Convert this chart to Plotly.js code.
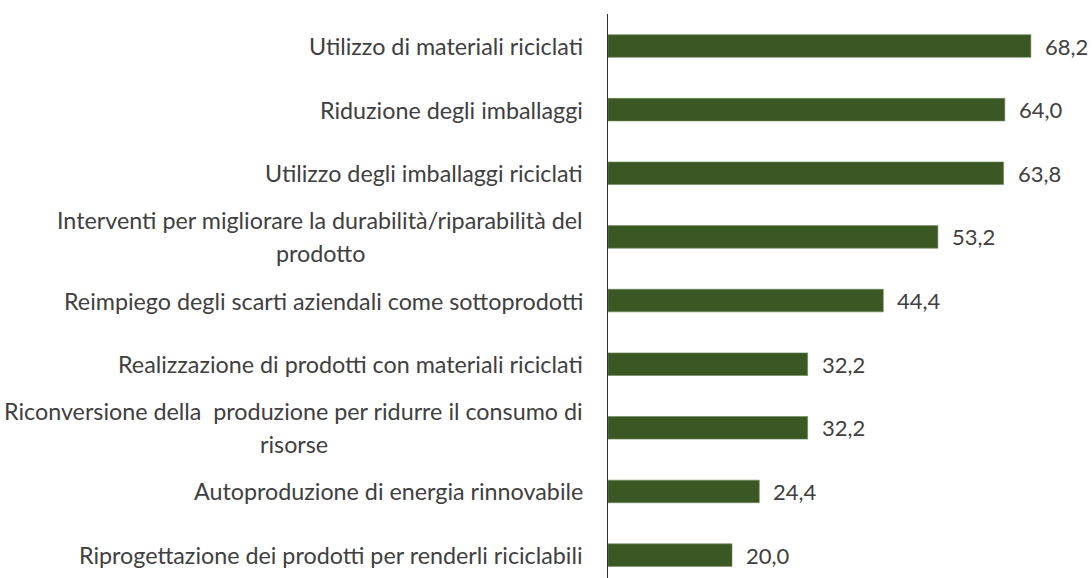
<!DOCTYPE html>
<html>
<head>
<meta charset="utf-8">
<script src="https://cdn.plot.ly/plotly-3.0.1.min.js"></script>
<style>html,body{margin:0;padding:0;background:#fff;}#chart{width:1092px;height:578px;}</style>
</head>
<body>
<div id="chart"></div>
<script>
const categories = [
  "Utilizzo di materiali riciclati",
  "Riduzione degli imballaggi",
  "Utilizzo degli imballaggi riciclati",
  "Interventi per migliorare la durabilità/riparabilità del\nprodotto",
  "Reimpiego degli scarti aziendali come sottoprodotti",
  "Realizzazione di prodotti con materiali riciclati",
  "Riconversione della  produzione per ridurre il consumo di\nrisorse",
  "Autoproduzione di energia rinnovabile",
  "Riprogettazione dei prodotti per renderli riciclabili"
];
const values = [68.2, 64.0, 63.8, 53.2, 44.4, 32.2, 32.2, 24.4, 20.0];
const valueLabels = values.map(v => v.toFixed(1).replace('.', ','));

const FONT = 'Lato';
const FSIZE = 23.3;
const VSIZE = 22;
const TXT = '#404040';
const canvas = document.createElement('canvas');
const ctx = canvas.getContext('2d');
ctx.font = FSIZE + 'px ' + FONT;

const annotations = [];
categories.forEach((c, i) => {
  const lines = c.split('\n');
  if (lines.length === 1) {
    annotations.push({x: 0, xref: 'paper', y: c, yref: 'y', text: lines[0],
      xanchor: 'right', yanchor: 'middle', xshift: -23, showarrow: false,
      font: {family: FONT, size: FSIZE, color: TXT}});
  } else {
    const w1 = ctx.measureText(lines[0]).width;
    annotations.push({x: 0, xref: 'paper', y: c, yref: 'y', text: lines[0],
      xanchor: 'right', yanchor: 'middle', xshift: -23, yshift: 17, showarrow: false,
      font: {family: FONT, size: FSIZE, color: TXT}});
    annotations.push({x: 0, xref: 'paper', y: c, yref: 'y', text: lines[1],
      xanchor: 'center', yanchor: 'middle', xshift: -24 - w1 / 2, yshift: -16, showarrow: false,
      font: {family: FONT, size: FSIZE, color: TXT}});
  }
  annotations.push({x: values[i], xref: 'x', y: c, yref: 'y', text: valueLabels[i],
    xanchor: 'left', yanchor: 'middle', xshift: 12, showarrow: false,
    font: {family: FONT, size: VSIZE, color: TXT}});
});

const trace = {
  type: 'bar', orientation: 'h',
  x: values, y: categories,
  width: 0.355,
  marker: {color: '#3b5724', line: {color: '#6f8a5a', width: 0.6}},
  hoverinfo: 'none'
};

const layout = {
  width: 1092, height: 578,
  margin: {l: 608, r: 0, t: 14, b: 0, pad: 0},
  paper_bgcolor: '#ffffff', plot_bgcolor: '#ffffff',
  showlegend: false,
  xaxis: {range: [0, 78.06], visible: false, fixedrange: true},
  yaxis: {type: 'category', range: [8.36, -0.503], showticklabels: false,
    showgrid: false, zeroline: false, showline: true, linecolor: '#303030', linewidth: 1.3,
    ticks: '', fixedrange: true},
  annotations: annotations
};

Plotly.newPlot('chart', [trace], layout, {displayModeBar: false, staticPlot: true});
</script>
</body>
</html>
